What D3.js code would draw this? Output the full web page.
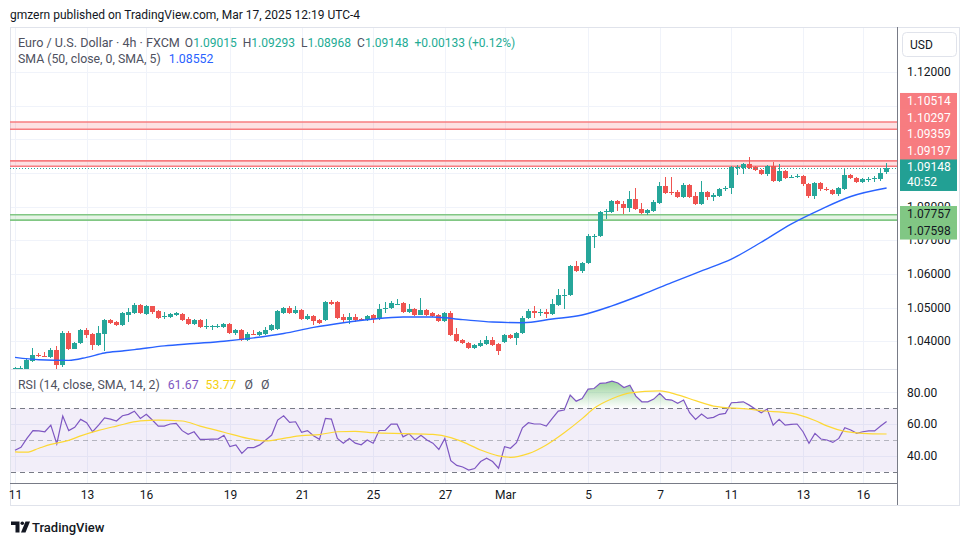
<!DOCTYPE html>
<html><head><meta charset="utf-8">
<script src="https://cdn.jsdelivr.net/npm/d3@7"></script>
<style>
body{margin:0;background:#fff;}
svg text{font-family:Roboto,"Liberation Sans",sans-serif;}
</style>
</head><body>
<svg id="chart" width="970" height="545"></svg>
<script>
// ---------- DATA ----------
const ohlc = [
[1.0318,1.0322,1.0312,1.0319],[1.0316,1.0325,1.0313,1.0320],[1.0316,1.0349,1.0313,1.0343],[1.0340,1.0379,1.0337,1.0358],
[1.0358,1.0365,1.0353,1.0355],[1.0357,1.0368,1.0352,1.0354],[1.0353,1.0379,1.0351,1.0373],[1.0373,1.0385,1.0316,1.0328],
[1.0328,1.0429,1.0322,1.0424],[1.0424,1.0430,1.0373,1.0376],[1.0378,1.0399,1.0376,1.0396],[1.0395,1.0435,1.0393,1.0432],
[1.0432,1.0440,1.0410,1.0417],[1.0420,1.0423,1.0373,1.0388],[1.0388,1.0444,1.0385,1.0424],[1.0422,1.0465,1.0370,1.0462],
[1.0462,1.0467,1.0452,1.0454],[1.0457,1.0460,1.0444,1.0447],[1.0449,1.0487,1.0446,1.0483],[1.0477,1.0499,1.0457,1.0487],
[1.0484,1.0514,1.0482,1.0507],[1.0507,1.0510,1.0481,1.0484],[1.0482,1.0507,1.0479,1.0504],[1.0504,1.0506,1.0482,1.0487],
[1.0489,1.0492,1.0466,1.0469],[1.0473,1.0487,1.0465,1.0476],[1.0471,1.0485,1.0468,1.0482],[1.0477,1.0486,1.0474,1.0483],
[1.0482,1.0485,1.0459,1.0462],[1.0465,1.0471,1.0449,1.0452],[1.0452,1.0467,1.0449,1.0462],[1.0462,1.0465,1.0439,1.0442],
[1.0442,1.0467,1.0437,1.0444],[1.0443,1.0447,1.0434,1.0445],[1.0444,1.0452,1.0440,1.0446],[1.0442,1.0455,1.0439,1.0452],
[1.0452,1.0455,1.0422,1.0425],[1.0424,1.0435,1.0419,1.0432],[1.0432,1.0435,1.0400,1.0404],[1.0405,1.0427,1.0402,1.0420],
[1.0421,1.0432,1.0417,1.0419],[1.0417,1.0430,1.0414,1.0427],[1.0422,1.0442,1.0419,1.0434],[1.0432,1.0452,1.0429,1.0449],
[1.0435,1.0492,1.0432,1.0489],[1.0484,1.0503,1.0481,1.0500],[1.0500,1.0504,1.0481,1.0484],[1.0484,1.0504,1.0481,1.0492],
[1.0492,1.0495,1.0464,1.0467],[1.0467,1.0482,1.0464,1.0475],[1.0475,1.0478,1.0449,1.0460],[1.0464,1.0467,1.0451,1.0454],
[1.0464,1.0520,1.0461,1.0516],[1.0516,1.0521,1.0508,1.0511],[1.0516,1.0519,1.0466,1.0469],[1.0472,1.0482,1.0457,1.0462],
[1.0462,1.0484,1.0452,1.0472],[1.0472,1.0482,1.0457,1.0462],[1.0467,1.0470,1.0459,1.0462],[1.0462,1.0477,1.0459,1.0474],
[1.0477,1.0482,1.0454,1.0467],[1.0469,1.0510,1.0464,1.0497],[1.0496,1.0516,1.0484,1.0499],[1.0498,1.0519,1.0495,1.0513],
[1.0510,1.0524,1.0508,1.0512],[1.0513,1.0516,1.0484,1.0487],[1.0487,1.0510,1.0484,1.0495],[1.0495,1.0500,1.0475,1.0479],
[1.0479,1.0527,1.0477,1.0492],[1.0492,1.0497,1.0476,1.0479],[1.0484,1.0487,1.0472,1.0475],[1.0478,1.0482,1.0457,1.0460],
[1.0460,1.0487,1.0457,1.0484],[1.0484,1.0489,1.0414,1.0417],[1.0420,1.0440,1.0397,1.0402],[1.0405,1.0408,1.0391,1.0394],
[1.0395,1.0398,1.0376,1.0379],[1.0379,1.0391,1.0376,1.0388],[1.0385,1.0405,1.0382,1.0394],[1.0392,1.0414,1.0389,1.0405],
[1.0405,1.0412,1.0387,1.0390],[1.0392,1.0395,1.0358,1.0370],[1.0397,1.0422,1.0394,1.0417],[1.0417,1.0420,1.0406,1.0409],
[1.0409,1.0428,1.0388,1.0425],[1.0424,1.0474,1.0421,1.0470],[1.0469,1.0497,1.0466,1.0489],[1.0489,1.0504,1.0469,1.0484],
[1.0484,1.0495,1.0475,1.0486],[1.0487,1.0497,1.0470,1.0482],[1.0480,1.0524,1.0477,1.0510],[1.0507,1.0556,1.0504,1.0536],
[1.0535,1.0556,1.0497,1.0538],[1.0536,1.0626,1.0533,1.0623],[1.0623,1.0637,1.0606,1.0609],[1.0609,1.0634,1.0603,1.0631],
[1.0631,1.0720,1.0628,1.0712],[1.0711,1.0720,1.0677,1.0713],[1.0712,1.0787,1.0709,1.0784],[1.0784,1.0794,1.0764,1.0786],
[1.0784,1.0819,1.0781,1.0816],[1.0816,1.0819,1.0786,1.0809],[1.0809,1.0817,1.0779,1.0796],[1.0796,1.0846,1.0784,1.0824],
[1.0824,1.0856,1.0791,1.0794],[1.0794,1.0810,1.0778,1.0781],[1.0781,1.0792,1.0776,1.0789],[1.0786,1.0819,1.0783,1.0814],
[1.0811,1.0872,1.0808,1.0861],[1.0861,1.0888,1.0838,1.0841],[1.0843,1.0888,1.0834,1.0841],[1.0842,1.0849,1.0826,1.0829],
[1.0829,1.0869,1.0826,1.0864],[1.0864,1.0867,1.0826,1.0829],[1.0832,1.0844,1.0804,1.0807],[1.0807,1.0876,1.0804,1.0844],
[1.0844,1.0847,1.0821,1.0829],[1.0830,1.0841,1.0817,1.0833],[1.0832,1.0855,1.0829,1.0852],[1.0854,1.0861,1.0847,1.0856],
[1.0854,1.0921,1.0836,1.0918],[1.0917,1.0925,1.0894,1.0919],[1.0916,1.0929,1.0896,1.0926],[1.0926,1.0948,1.0913,1.0916],
[1.0918,1.0921,1.0905,1.0908],[1.0908,1.0911,1.0895,1.0898],[1.0898,1.0924,1.0890,1.0921],[1.0921,1.0933,1.0873,1.0876],
[1.0876,1.0928,1.0873,1.0906],[1.0906,1.0909,1.0883,1.0886],[1.0886,1.0893,1.0884,1.0888],[1.0889,1.0898,1.0885,1.0891],
[1.0891,1.0894,1.0861,1.0868],[1.0868,1.0871,1.0826,1.0832],[1.0831,1.0874,1.0824,1.0871],[1.0871,1.0874,1.0847,1.0851],
[1.0852,1.0857,1.0847,1.0850],[1.0850,1.0852,1.0834,1.0837],[1.0837,1.0857,1.0832,1.0854],[1.0853,1.0911,1.0850,1.0893],
[1.0893,1.0897,1.0881,1.0884],[1.0884,1.0887,1.0871,1.0874],[1.0874,1.0884,1.0871,1.0881],[1.0880,1.0888,1.0874,1.0882],
[1.0882,1.0891,1.0874,1.0884],[1.0881,1.0911,1.0877,1.0901],[1.09015,1.09293,1.08968,1.09148]
];
const smaPoints = [[0,1.0352],[4,1.0345],[9,1.0343],[12,1.0352],[15,1.0365],[18,1.0371],[20,1.0375],[25,1.0386],
[30,1.0393],[35,1.0400],[40,1.0410],[45,1.0423],[50,1.0441],[55,1.0455],[60,1.0466],[65,1.0472],[70,1.0472],
[75,1.0464],[80,1.0457],[85,1.0455],[90,1.0466],[95,1.0478],[100,1.0505],[105,1.0538],[110,1.0574],[115,1.0609],
[120,1.0644],[125,1.0694],[130,1.0748],[135,1.0792],[140,1.0830],[146,1.08552]];
const rsiValues = [43.5,45.4,51,55.9,55.7,55.2,59.4,47.5,65.1,55.9,58,63,60.9,55.2,59.4,64,63.2,62,65.3,66.2,
68.2,63.6,66.2,62.6,58.8,58.8,60.1,60.5,55.9,53.6,55.2,50.4,50.4,50.5,50.6,53,45.8,46.9,41.6,45.2,
45.2,46.9,50,53.1,62.6,65.3,61.1,61.5,54.8,55.9,52.7,50.4,63.6,63.2,51,48,51,48,47,50,
48,56,56,60,60,52,54,50,53,50,48,44,51,37,34,33,31,32,36.4,38.5,
36.4,32.2,45.8,44.8,48.3,57.7,60.9,60.1,60.1,58.8,63.6,68.2,68.9,78.3,74.5,76.2,82.1,82.5,85.7,86,
87.1,86,83.1,84.6,77.7,74.1,74.1,75.8,79.4,75.6,75.2,73.1,75.2,67.2,63,66.4,63.6,64.3,66.2,66.8,
73.5,73.7,74.1,72,69.5,67.2,69.5,59.4,63,59.4,59.9,60.1,55.2,47.9,54.2,50.6,50,48.5,51,57.7,
56.3,54.2,55.2,55.7,55.7,58.8,61.67];
const rsiMaPoints = [[0,42.5],[2,42.3],[4,44.8],[6,47.2],[9,49.8],[11,52.6],[14,56.1],[17,58.8],[21,62.1],[24,62.6],
[28,62],[31,58.8],[35,54.9],[39,51],[42,49.4],[45,51],[48,52.7],[51,53.4],[54,55.2],[57,55.5],[60,54.6],[65,54],
[70,53.5],[73,51.5],[75,48.8],[78,43.7],[81,40],[83,39.1],[86,41.4],[89,46.9],[92,54.6],[95,63.5],[97,70],[100,76],
[103,79.7],[108,81],[111,78.5],[114,74.8],[117,71.4],[123,69.4],[125,68.5],[130,66.9],[134,62.3],[136,58.9],
[139,55.4],[142,54.2],[146,53.77]];
const priceTicks = [1.04,1.05,1.06,1.07,1.08,1.09,1.10,1.11,1.12];
const rsiGridTicks = [40,60,80];
const rsiBands = [70,50,30];
const dateLabels = ["11","13","16","19","21","25","27","Mar","5","7","11","13","16"];
const dateIndex  = [0,12,22,36,48,60,72,82,96,108,120,132,142];
const resistance = [[1.10514,1.10297],[1.09359,1.09197]];
const support = [[1.07757,1.07598]];
const lastPrice = 1.09148;
const countdown = "40:52";
const legendOHLC = [["O","1.09015"],["H","1.09293"],["L","1.08968"],["C","1.09148"]];
const legendChange = "+0.00133 (+0.12%)";
const smaLast = "1.08552";
const rsiLast = "61.67", rsiMaLast = "53.77";

// ---------- LAYOUT ----------
const svg = d3.select("#chart");
const L = 10, R = 897, TOP = 27, PB = 369, RB = 483, BOTTOM = 505, RIGHT = 959;
const x = d3.scaleLinear().domain([0,146]).range([15, 886.6]);
const y = d3.scaleLinear().domain([1.04,1.12]).range([341.2,72]);
const yr = d3.scaleLinear().domain([30,70]).range([471.7,408.3]);
const TEAL = "#26a69a", RED = "#ef5350";

svg.append("rect").attr("width",970).attr("height",545).attr("fill","#fff");
const defs = svg.append("defs");
defs.append("clipPath").attr("id","pclip").append("rect").attr("x",L).attr("y",TOP).attr("width",R-L).attr("height",PB-TOP);
defs.append("clipPath").attr("id","rclip").append("rect").attr("x",L).attr("y",PB).attr("width",R-L).attr("height",RB-PB);
defs.append("clipPath").attr("id","obclip").append("rect").attr("x",L).attr("y",PB).attr("width",R-L).attr("height",yr(70)-PB);
const grad = defs.append("linearGradient").attr("id","obgrad").attr("gradientUnits","userSpaceOnUse")
  .attr("x1",0).attr("x2",0).attr("y1",yr(100)).attr("y2",yr(70));
grad.append("stop").attr("offset","0").attr("stop-color","#4caf50").attr("stop-opacity",1);
grad.append("stop").attr("offset","1").attr("stop-color","#4caf50").attr("stop-opacity",0);

// frame
svg.append("rect").attr("x",L+0.5).attr("y",TOP+0.5).attr("width",RIGHT-L).attr("height",BOTTOM-TOP)
  .attr("fill","none").attr("stroke","#e0e3eb");

// grid
const grid = svg.append("g").attr("stroke","#f0f3fa").attr("shape-rendering","crispEdges");
dateIndex.forEach(i=>{ grid.append("line").attr("x1",Math.round(x(i))+0.5).attr("x2",Math.round(x(i))+0.5).attr("y1",TOP+1).attr("y2",RB); });
priceTicks.forEach(p=>{ grid.append("line").attr("x1",L+1).attr("x2",R).attr("y1",Math.round(y(p))+0.5).attr("y2",Math.round(y(p))+0.5); });

// RSI background band and grid
svg.append("rect").attr("x",L+1).attr("width",R-L-1).attr("y",yr(70)).attr("height",yr(30)-yr(70))
  .attr("fill","rgba(126,87,194,0.1)");
rsiGridTicks.forEach(v=>{ grid.append("line").attr("x1",L+1).attr("x2",R).attr("y1",Math.round(yr(v))+0.5).attr("y2",Math.round(yr(v))+0.5); });
rsiBands.forEach(v=>{
  svg.append("line").attr("x1",L+1).attr("x2",R).attr("y1",Math.round(yr(v))+0.5).attr("y2",Math.round(yr(v))+0.5)
    .attr("stroke","#787b86").attr("stroke-opacity", v===50?0.5:1).attr("stroke-dasharray","5,4");
});

// support / resistance bands
const bands = svg.append("g").attr("clip-path","url(#pclip)");
resistance.forEach(b=>{
  bands.append("rect").attr("x",L).attr("width",R-L).attr("y",y(b[0])).attr("height",y(b[1])-y(b[0])).attr("fill","rgba(242,54,69,0.15)");
  b.forEach(p=>bands.append("line").attr("x1",L).attr("x2",R).attr("y1",y(p)).attr("y2",y(p)).attr("stroke","#f77c80").attr("stroke-width",1.6));
});
support.forEach(b=>{
  bands.append("rect").attr("x",L).attr("width",R-L).attr("y",y(b[0])).attr("height",y(b[1])-y(b[0])).attr("fill","rgba(129,199,132,0.2)");
  b.forEach(p=>bands.append("line").attr("x1",L).attr("x2",R).attr("y1",y(p)).attr("y2",y(p)).attr("stroke","#81c784").attr("stroke-width",1.6));
});

// candles
const cg = svg.append("g").attr("clip-path","url(#pclip)").attr("shape-rendering","crispEdges");
ohlc.forEach((d,i)=>{
  const [o,h,l,c] = d;
  const col = c>=o ? TEAL : RED;
  const cx = Math.floor(x(i));
  cg.append("rect").attr("x",cx).attr("width",1).attr("y",y(h)).attr("height",Math.max(1,y(l)-y(h))).attr("fill",col);
  const top = y(Math.max(o,c)), bot = y(Math.min(o,c));
  cg.append("rect").attr("x",cx-2).attr("width",5).attr("y",top).attr("height",Math.max(1,bot-top)).attr("fill",col);
});

// SMA line
svg.append("path").attr("clip-path","url(#pclip)")
  .attr("d", d3.line().x(d=>x(d[0])).y(d=>y(d[1])).curve(d3.curveMonotoneX)(smaPoints))
  .attr("fill","none").attr("stroke","#2962ff").attr("stroke-width",1.4);

// last price dotted line
svg.append("line").attr("x1",L).attr("x2",R).attr("y1",Math.round(y(lastPrice))+0.5).attr("y2",Math.round(y(lastPrice))+0.5)
  .attr("stroke",TEAL).attr("stroke-dasharray","1,2");

// RSI
const rsiPts = rsiValues.map((v,i)=>[i,v]);
svg.append("path").attr("clip-path","url(#obclip)")
  .attr("d", d3.area().x(d=>x(d[0])).y0(yr(70)).y1(d=>yr(d[1]))(rsiPts))
  .attr("fill","url(#obgrad)");
svg.append("path").attr("clip-path","url(#rclip)")
  .attr("d", d3.line().x(d=>x(d[0])).y(d=>yr(d[1]))(rsiPts))
  .attr("fill","none").attr("stroke","#7e57c2").attr("stroke-width",1.2);
svg.append("path").attr("clip-path","url(#rclip)")
  .attr("d", d3.line().x(d=>x(d[0])).y(d=>yr(d[1])).curve(d3.curveMonotoneX)(rsiMaPoints))
  .attr("fill","none").attr("stroke","#fdd835").attr("stroke-width",1.2);

// separators
svg.append("line").attr("x1",L).attr("x2",R).attr("y1",PB+0.5).attr("y2",PB+0.5).attr("stroke","#e0e3eb");
svg.append("line").attr("x1",L).attr("x2",R).attr("y1",RB+0.5).attr("y2",RB+0.5).attr("stroke","#787b86");
svg.append("line").attr("x1",R+0.5).attr("x2",R+0.5).attr("y1",TOP).attr("y2",BOTTOM).attr("stroke","#787b86");

// level labels (stacked like TradingView), computed first so hidden tick labels can be skipped
const BH = 16.5, BX = 900, BW = 57;
const lastTop = y(lastPrice) - 9;
const boxes = [];
boxes.push({top:lastTop, h:32, fill:"#22a094", color:"#fff", lines:[lastPrice.toFixed(5), countdown]});
let ceil = lastTop;
resistance.flat().sort((a,b)=>a-b).forEach(p=>{
  const bottom = Math.min(ceil, y(p)+BH/2);
  const top = bottom - BH;
  boxes.push({top, h:BH+0.5, fill:"#f77c80", color:"#fff", lines:[p.toFixed(5)]});
  ceil = top;
});
let floor = lastTop + 32;
support.flat().sort((a,b)=>b-a).forEach(p=>{
  const top = Math.max(floor, y(p)-BH/2);
  boxes.push({top:top-0.5, h:BH+0.5, fill:"#81c784", color:"#131722", lines:[p.toFixed(5)]});
  floor = top + BH;
});
const inAny = yy => boxes.some(b => yy >= b.top && yy <= b.top+b.h);
const covered = yy => inAny(yy-5) && inAny(yy+5);

// price axis labels
const ax = svg.append("g").attr("font-size",12).attr("fill","#131722");
priceTicks.forEach(p=>{
  if (covered(y(p))) return;
  ax.append("text").attr("x",907).attr("y",y(p)).attr("dy","0.35em").text(p.toFixed(5));
});
rsiGridTicks.forEach(v=>{
  ax.append("text").attr("x",907).attr("y",yr(v)).attr("dy","0.35em").text(v.toFixed(2));
});
svg.append("rect").attr("x",902.5).attr("y",32.5).attr("width",54).attr("height",24).attr("rx",4)
  .attr("fill","#fff").attr("stroke","#e0e3eb");
svg.append("text").attr("x",910).attr("y",44.5).attr("dy","0.35em").attr("font-size",12).attr("fill","#131722").text("USD");

const lab = svg.append("g").attr("font-size",12);
boxes.forEach(b=>{
  lab.append("rect").attr("x",BX).attr("y",b.top).attr("width",BW).attr("height",b.h).attr("fill",b.fill);
  b.lines.forEach((t,k)=>{
    lab.append("text").attr("x",907).attr("y",b.top+8.25+k*15).attr("dy","0.35em").attr("fill",b.color).text(t);
  });
});

// time axis
const tg = svg.append("g").attr("font-size",12).attr("fill","#131722").attr("text-anchor","middle");
dateIndex.forEach((i,k)=>{
  tg.append("text").attr("x",Math.round(x(i))+0.5).attr("y",495).attr("dy","0.35em").text(dateLabels[k]);
});

// legends
const GRAY = "#4e5160", GREEN = "#22ab94";
const l1 = svg.append("text").attr("x",18).attr("y",42.5).attr("dy","0.35em").attr("font-size",12).attr("fill",GRAY);
l1.append("tspan").attr("font-size",12.6).text("Euro / U.S. Dollar · 4h · FXCM");
legendOHLC.forEach(([k,v],j)=>{
  l1.append("tspan").attr("dx", j===0?5:6).text(k);
  l1.append("tspan").attr("fill",GREEN).text(v);
});
l1.append("tspan").attr("dx",6).attr("fill",GREEN).text(legendChange);
const l2 = svg.append("text").attr("x",18).attr("y",59).attr("dy","0.35em").attr("font-size",12.3).attr("fill",GRAY);
l2.append("tspan").text("SMA (50, close, 0, SMA, 5)");
l2.append("tspan").attr("dx",8).attr("fill","#2962ff").text(smaLast);
const l3 = svg.append("text").attr("x",18).attr("y",385).attr("dy","0.35em").attr("font-size",12.3).attr("fill",GRAY);
l3.append("tspan").text("RSI (14, close, SMA, 14, 2)");
l3.append("tspan").attr("dx",8).attr("fill","#7e57c2").text(rsiLast);
l3.append("tspan").attr("dx",7).attr("fill","#f5d10f").text(rsiMaLast);
l3.append("tspan").attr("dx",8).text("Ø");
l3.append("tspan").attr("dx",8).text("Ø");

// header
svg.append("text").attr("x",10).attr("y",15).attr("dy","0.35em").attr("font-size",12).attr("fill","#131722")
  .text("gmzern published on TradingView.com, Mar 17, 2025 12:19 UTC-4");

// logo
const lg = svg.append("g").attr("fill","#131722");
lg.append("path").attr("d","M11,521.5 H19.5 V532.5 H15.5 V525 H11 Z");
lg.append("circle").attr("cx",22.3).attr("cy",523.3).attr("r",1.8);
lg.append("path").attr("d","M25.5,521.5 H30 L25.5,532.5 H21 Z");
svg.append("text").attr("x",32).attr("y",527).attr("dy","0.35em").attr("font-size",13).attr("fill","#131722")
  .attr("font-weight",500).text("TradingView");
</script>
</body></html>
